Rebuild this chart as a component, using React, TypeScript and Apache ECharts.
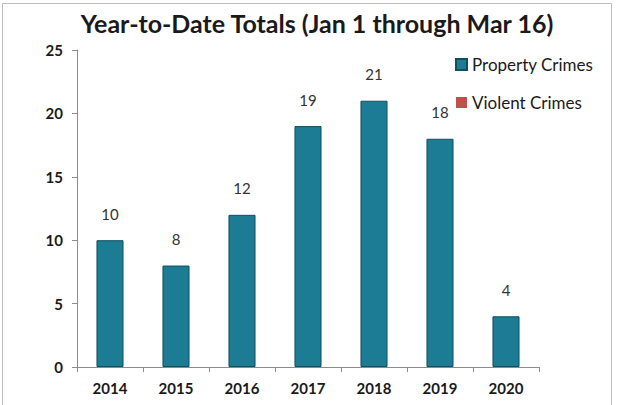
import React, { useEffect, useRef } from "react";
import * as echarts from "echarts";

const categories = ["2014", "2015", "2016", "2017", "2018", "2019", "2020"];
const propertyCrimes = [10, 8, 12, 19, 21, 18, 4];
const violentCrimes = [0, 0, 0, 0, 0, 0, 0];
const yTicks = { min: 0, max: 25, interval: 5 };
const titleText = "Year-to-Date Totals (Jan 1 through Mar 16)";

const FONT = "Lato, 'Open Sans', sans-serif";

export default function App() {
  const ref = useRef<HTMLDivElement>(null);
  useEffect(() => {
    document.body.style.margin = "0";
    if (!ref.current) return;
    const chart = echarts.init(ref.current, null, { renderer: "svg" });
    chart.setOption({
      animation: false,
      backgroundColor: "#ffffff",
      textStyle: { fontFamily: FONT },
      title: {
        text: titleText,
        left: 312,
        textAlign: "center",
        top: 5,
        textStyle: { fontSize: 25, fontWeight: "bold", color: "#1a1a1a", fontFamily: FONT },
      },
      graphic: [
        {
          type: "rect",
          shape: { x: 2.5, y: 3.5, width: 609, height: 420 },
          style: { fill: "none", stroke: "#bdbdbd", lineWidth: 1 },
          silent: true,
        },
      ],
      legend: {
        orient: "vertical",
        left: 450,
        top: 51,
        itemGap: 21,
        itemWidth: 11,
        itemHeight: 11,
        icon: "rect",
        textStyle: { fontSize: 17, color: "#1a1a1a", fontFamily: FONT },
        data: ["Property Crimes", "Violent Crimes"],
      },
      grid: { left: 77, right: 85, top: 50, bottom: 38 },
      xAxis: {
        type: "category",
        data: categories,
        axisLine: { lineStyle: { color: "#8c8c8c" } },
        axisTick: { show: true, alignWithLabel: false, length: 5, lineStyle: { color: "#8c8c8c" } },
        axisLabel: { fontSize: 15, fontWeight: "bold", color: "#1a1a1a", margin: 13, fontFamily: FONT },
      },
      yAxis: {
        type: "value",
        min: yTicks.min,
        max: yTicks.max,
        interval: yTicks.interval,
        splitLine: { show: false },
        axisLine: { show: true, lineStyle: { color: "#8c8c8c" } },
        axisTick: { show: true, length: 5, lineStyle: { color: "#8c8c8c" } },
        axisLabel: { fontSize: 15, fontWeight: "bold", color: "#1a1a1a", margin: 14, fontFamily: FONT },
      },
      series: [
        {
          name: "Property Crimes",
          type: "bar",
          stack: "total",
          data: propertyCrimes,
          barWidth: "41%",
          itemStyle: { color: "#1b7c93", borderColor: "#0f4f5f", borderWidth: 1 },
          label: {
            show: true,
            position: "top",
            distance: 19,
            fontSize: 15,
            color: "#333333",
            fontFamily: FONT,
          },
        },
        {
          name: "Violent Crimes",
          type: "bar",
          stack: "total",
          data: violentCrimes,
          itemStyle: { color: "#c0504d", borderColor: "#8c3836", borderWidth: 0 },
        },
      ],
    });
    return () => chart.dispose();
  }, []);
  return <div ref={ref} style={{ width: 624, height: 405 }} />;
}
